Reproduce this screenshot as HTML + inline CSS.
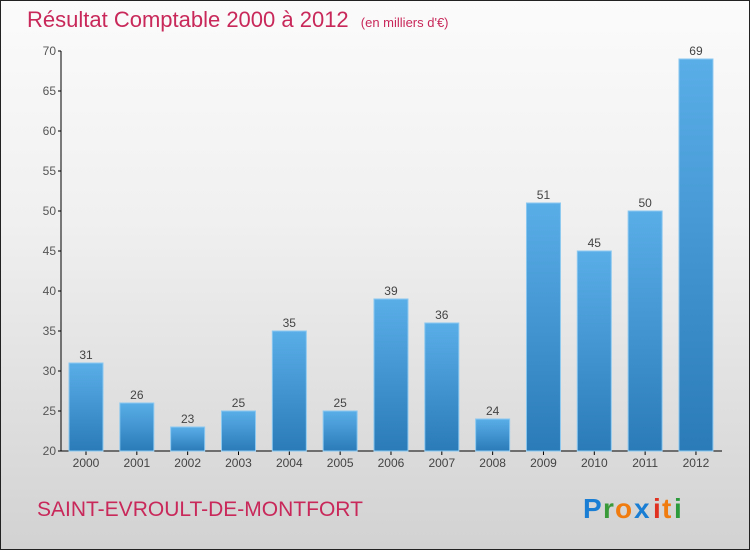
<!DOCTYPE html>
<html><head><meta charset="utf-8"><style>
body{margin:0;}
#c{width:748px;height:548px;border:1px solid #222;background:linear-gradient(#fbfbfb,#f0f0f0 40%,#d2d2d2);position:relative;font-family:"Liberation Sans",sans-serif;overflow:hidden}
</style></head><body>
<div id="c">
<svg width="748" height="548" xmlns="http://www.w3.org/2000/svg">
<defs><linearGradient id="bg" x1="0" y1="0" x2="0" y2="1"><stop offset="0" stop-color="#5aaee8"/><stop offset="1" stop-color="#2a7bb8"/></linearGradient></defs>
<text x="26" y="26" font-size="22" fill="#c8285a">Résultat Comptable 2000 à 2012 <tspan font-size="13" dx="6">(en milliers d'€)</tspan></text>
<g id="axes"></g><g id="bars"></g>
<text x="36" y="515" font-size="21" fill="#c8285a">SAINT-EVROULT-DE-MONTFORT</text>
<g font-size="28" font-weight="bold" font-family="Liberation Sans,sans-serif">
<text x="582" y="517" fill="#1a7fd4">P</text><text x="602" y="517" fill="#3a9a3a">r</text><text x="614" y="517" fill="#f07c10">o</text><text x="633" y="517" fill="#1a7fd4">x</text><text x="652" y="517" fill="#e03020">i</text><text x="661" y="517" fill="#f07c10">t</text><text x="673" y="517" fill="#2a9a3a">i</text></g>
</svg></div>
<script>
const years=["2000","2001","2002","2003","2004","2005","2006","2007","2008","2009","2010","2011","2012"];
const values=[31,26,23,25,35,25,39,36,24,51,45,50,69];
const yTicks=[20,25,30,35,40,45,50,55,60,65,70];
const NS="http://www.w3.org/2000/svg";
const y=v=>450-(v-20)*8, x=i=>85+i*50.83;
function mk(t,a,p){const e=document.createElementNS(NS,t);for(const k in a)e.setAttribute(k,a[k]);p.appendChild(e);return e;}
const ax=document.getElementById('axes'),bs=document.getElementById('bars');
let l=mk('line',{x1:60,y1:50,x2:60,y2:450,stroke:'#000'},ax);


l=mk('line',{x1:60,y1:450,x2:721,y2:450,stroke:'#000'},ax);


yTicks.forEach(v=>{mk('line',{x1:57,x2:60,y1:y(v),y2:y(v),stroke:'#000'},ax);
const t=mk('text',{x:55,y:y(v)+4,'text-anchor':'end','font-size':12,fill:'#555'},ax);t.textContent=v;

});
years.forEach((yr,i)=>{const cx=x(i);
const r=mk('rect',{x:cx-17,y:y(values[i]),width:34,height:450-y(values[i]),fill:'url(#bg)',stroke:'#8cc8f0','stroke-width':1},bs);


const v=mk('text',{x:cx,y:y(values[i])-4,'text-anchor':'middle','font-size':12,fill:'#444'},bs);v.textContent=values[i];


mk('line',{x1:cx,x2:cx,y1:450,y2:454,stroke:'#000'},ax);
const t=mk('text',{x:cx,y:466,'text-anchor':'middle','font-size':12,fill:'#444'},ax);t.textContent=yr;

});
</script></body></html>
